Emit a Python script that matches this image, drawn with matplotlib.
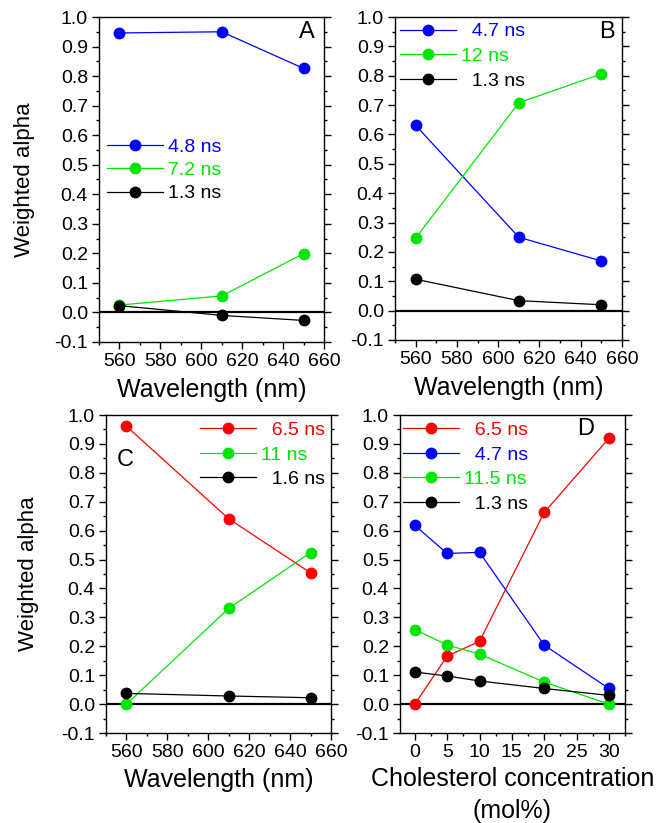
import numpy as np
import matplotlib.pyplot as plt
from matplotlib.ticker import MultipleLocator

plt.rcParams['font.family'] = ['Liberation Sans', 'DejaVu Sans']

# dati
wl = [560, 610, 650]
a_48 = [0.946, 0.950, 0.826]
a_72 = [0.025, 0.056, 0.199]
a_13 = [0.023, -0.010, -0.027]

b_47 = [0.631, 0.250, 0.169]
b_12 = [0.247, 0.708, 0.806]
b_13 = [0.107, 0.034, 0.020]

c_65 = [0.961, 0.641, 0.454]
c_11 = [0.000, 0.331, 0.524]
c_16 = [0.037, 0.028, 0.022]

chol = [0, 5, 10, 20, 30]
d_65 = [0.000, 0.166, 0.217, 0.663, 0.919]
d_47 = [0.618, 0.521, 0.525, 0.204, 0.054]
d_115 = [0.258, 0.204, 0.173, 0.076, 0.000]
d_13 = [0.111, 0.097, 0.080, 0.054, 0.030]

BLU = "#0000ff"
VERDE = "#00e600"
ROSSO = "#ff0000"
NERO = "#000000"

W, H = 664, 823
fig = plt.figure(figsize=(W/100, H/100), dpi=100)

def assi(l, r, t, b):
    return fig.add_axes([l/W, (H-b)/H, (r-l)/W, (b-t)/H])

def serie(ax, x, y, col, lab):
    ax.plot(x, y, "-o", color=col, lw=0.9, ms=7.5, mec=col, label=lab)

def stile(ax, xmin, xmax, xmaj, xmin_step, xlabel, ylab_pad=None, xlab_pad=6):
    ax.axhline(0, color="k", lw=1.6, zorder=1)
    ax.set_ylim(-0.1, 1.0)
    ax.set_xlim(xmin, xmax)
    ax.yaxis.set_major_locator(MultipleLocator(0.1))
    ax.yaxis.set_minor_locator(MultipleLocator(0.05))
    ax.xaxis.set_major_locator(MultipleLocator(xmaj))
    ax.xaxis.set_minor_locator(MultipleLocator(xmin_step))
    ax.yaxis.set_major_formatter(plt.FuncFormatter(lambda v, p: "%.1f" % v))
    ax.tick_params(which="both", direction="out", top=False, right=True,
                   labelsize=14, width=1, pad=3)
    ax.tick_params(which="major", length=5)
    ax.tick_params(which="minor", length=2.5)
    for s in ax.spines.values():
        s.set_linewidth(1)
    ax.set_xlabel(xlabel, fontsize=18, labelpad=xlab_pad, linespacing=1.45)
    if ylab_pad is not None:
        ax.set_ylabel("Weighted alpha", fontsize=16, labelpad=ylab_pad)

def legenda(ax, x, y, sp=0.36):
    ax.legend(loc="upper left", bbox_to_anchor=(x, y), frameon=False,
              fontsize=14, labelcolor="linecolor", handlelength=2.9,
              handletextpad=0.25, labelspacing=sp, borderpad=0,
              borderaxespad=0)

# A
axA = assi(99, 324, 17, 342)
serie(axA, wl, a_48, BLU, "4.8 ns")
serie(axA, wl, a_72, VERDE, "7.2 ns")
serie(axA, wl, a_13, NERO, "1.3 ns")
stile(axA, 550, 660, 20, 10, "Wavelength (nm)", ylab_pad=14)
legenda(axA, 0.035, 0.628, sp=0.3)
axA.text(0.96, 0.955, "A", transform=axA.transAxes, fontsize=17,
         ha="right", va="center")

# B
axB = assi(395, 622, 17, 340)
serie(axB, wl, b_47, BLU, "  4.7 ns")
serie(axB, wl, b_12, VERDE, "12 ns")
serie(axB, wl, b_13, NERO, "  1.3 ns")
stile(axB, 550, 660, 20, 10, "Wavelength (nm)")
legenda(axB, 0.022, 0.982)
axB.text(0.97, 0.955, "B", transform=axB.transAxes, fontsize=17,
         ha="right", va="center")

# C
axC = assi(106, 331, 415, 733)
serie(axC, wl, c_65, ROSSO, "  6.5 ns")
serie(axC, wl, c_11, VERDE, "11 ns")
serie(axC, wl, c_16, NERO, "  1.6 ns")
stile(axC, 550, 660, 20, 10, "Wavelength (nm)", ylab_pad=16, xlab_pad=5)
legenda(axC, 0.418, 0.98)
axC.text(0.085, 0.86, "C", transform=axC.transAxes, fontsize=17,
         ha="center", va="center")

# D
axD = assi(400, 625, 415, 733)
serie(axD, chol, d_65, ROSSO, "  6.5 ns")
serie(axD, chol, d_47, BLU, "  4.7 ns")
serie(axD, chol, d_115, VERDE, "11.5 ns")
serie(axD, chol, d_13, NERO, "  1.3 ns")
stile(axD, -2.3, 32.5, 5, 2.5, "Cholesterol concentration\n(mol%)", xlab_pad=4)
legenda(axD, 0.013, 0.98)
axD.text(0.825, 0.955, "D", transform=axD.transAxes, fontsize=17,
         ha="center", va="center")

fig.savefig("out.png", dpi=100)
